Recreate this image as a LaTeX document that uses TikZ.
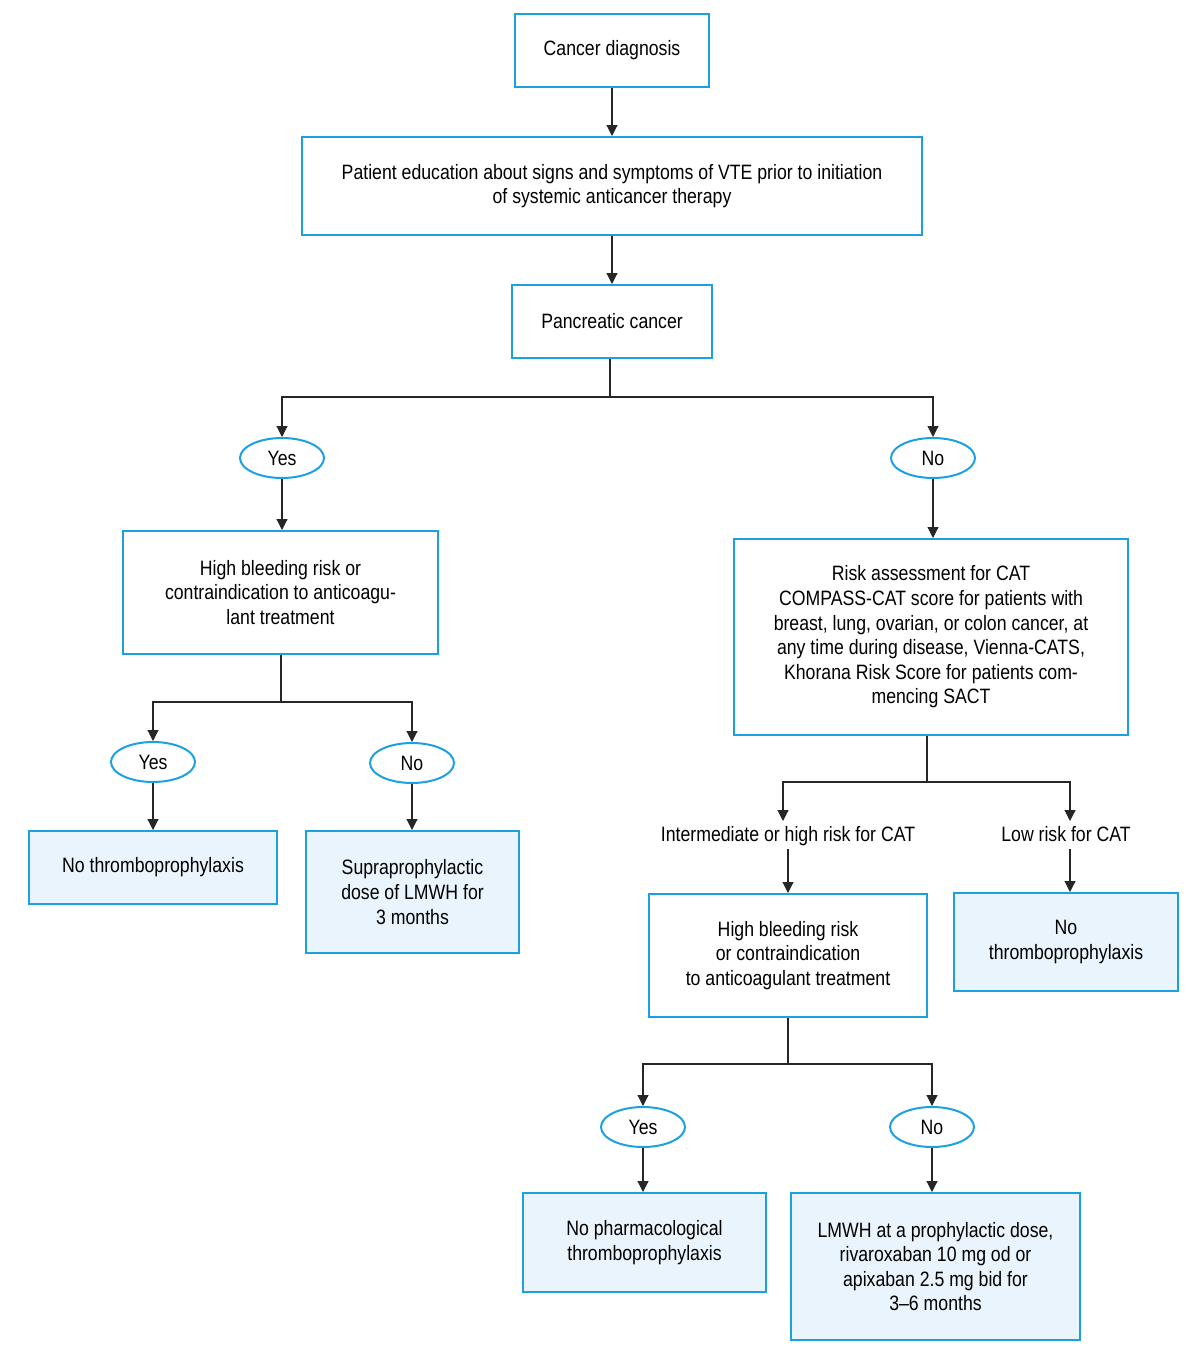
\documentclass[tikz,border=0pt]{standalone}
\usepackage{fontspec}
\setmainfont{Liberation Sans}[FakeStretch=0.85]
\usetikzlibrary{arrows.meta,shapes.geometric}
\definecolor{bblue}{HTML}{1BA1E2}
\definecolor{lfill}{HTML}{EAF4FC}
\tikzset{
  box/.style={draw=bblue,line width=2pt,align=center,inner sep=0pt,
    font=\fontsize{20.8}{24.6}\selectfont},
  endbox/.style={box,fill=lfill},
  oval/.style={ellipse,draw=bblue,line width=2pt,inner sep=0pt,
    minimum width=84pt,minimum height=40pt,font=\fontsize{20.8}{24.6}\selectfont},
  lbl/.style={inner sep=1pt,font=\fontsize{20.8}{24.6}\selectfont},
  conn/.style={line width=1.1pt,draw=black!85},
  arr/.style={conn,-{Triangle[width=11pt,length=11pt]}}
}
\begin{document}
\begin{tikzpicture}[x=1pt,y=-1pt]
\useasboundingbox (0,0) rectangle (1197,1354);
% boxes
\node[box,minimum width=194pt,minimum height=73pt] (cd) at (612,50.5) {Cancer diagnosis};
\node[box,minimum width=620pt,minimum height=98pt] (pe) at (612,186) {Patient education about signs and symptoms of VTE prior to initiation\\of systemic anticancer therapy};
\node[box,minimum width=200pt,minimum height=73pt] (pc) at (612,321.5) {Pancreatic cancer};
\node[oval] (y1) at (282,458) {Yes};
\node[oval] (n1) at (933,458) {No};
\node[box,minimum width=315pt,minimum height=123pt] (hb1) at (280.5,592.5) {High bleeding risk or\\contraindication to anticoagu-\\lant treatment};
\node[box,minimum width=394pt,minimum height=196pt] (ra) at (931,637) {Risk assessment for CAT\\COMPASS-CAT score for patients with\\breast, lung, ovarian, or colon cancer, at\\any time during disease, Vienna-CATS,\\Khorana Risk Score for patients com-\\mencing SACT};
\node[oval] (y2) at (153,762) {Yes};
\node[oval] (n2) at (412,763) {No};
\node[endbox,minimum width=248pt,minimum height=73pt] (nt1) at (153,867.5) {No thromboprophylaxis};
\node[endbox,minimum width=213pt,minimum height=122pt] (sp) at (412.5,892) {Supraprophylactic\\dose of LMWH for\\3 months};
\node[lbl] (ih) at (788,836) {Intermediate or high risk for CAT};
\node[lbl] (lr) at (1066,834) {Low risk for CAT};
\node[box,minimum width=278pt,minimum height=123pt] (hb2) at (788,955.5) {High bleeding risk\\or contraindication\\to anticoagulant treatment};
\node[endbox,minimum width=224pt,minimum height=98pt] (nt2) at (1066,942) {No\\thromboprophylaxis};
\node[oval] (y3) at (643,1127) {Yes};
\node[oval] (n3) at (932,1127) {No};
\node[endbox,minimum width=243pt,minimum height=99pt] (np) at (644.5,1242.5) {No pharmacological\\thromboprophylaxis};
\node[endbox,minimum width=289pt,minimum height=147pt] (lm) at (935.5,1266.5) {LMWH at a prophylactic dose,\\rivaroxaban 10 mg od or\\apixaban 2.5 mg bid for\\3–6 months};
% coordinates for branch points and label ends
\coordinate (b1) at (610,397);
\coordinate (b2) at (281,702);
\coordinate (b3) at (927,782);
\coordinate (b4) at (788,1064);
\coordinate (ihtop) at (783,821);
\coordinate (lrtop) at (1070,821);
\coordinate (ihbot) at (788,849);
\coordinate (lrbot) at (1070,849);
% connectors
\draw[arr] (cd.south) -- (pe.north);
\draw[arr] (pe.south) -- (pc.north);
\draw[conn] (pc.south -| b1) -- (b1);
\draw[arr] (b1) -| (y1.north);
\draw[arr] (b1) -| (n1.north);
\draw[arr] (y1.south) -- (hb1.north -| y1.south);
\draw[arr] (n1.south) -- (ra.north -| n1.south);
\draw[conn] (hb1.south -| b2) -- (b2);
\draw[arr] (b2) -| (y2.north);
\draw[arr] (b2) -| (n2.north);
\draw[arr] (y2.south) -- (nt1.north -| y2.south);
\draw[arr] (n2.south) -- (sp.north -| n2.south);
\draw[conn] (ra.south -| b3) -- (b3);
\draw[arr] (b3) -| (ihtop);
\draw[arr] (b3) -| (lrtop);
\draw[arr] (ihbot) -- (hb2.north);
\draw[arr] (lrbot) -- (nt2.north -| lrbot);
\draw[conn] (hb2.south) -- (b4);
\draw[arr] (b4) -| (y3.north);
\draw[arr] (b4) -| (n3.north);
\draw[arr] (y3.south) -- (np.north -| y3.south);
\draw[arr] (n3.south) -- (lm.north -| n3.south);
\end{tikzpicture}
\end{document}
